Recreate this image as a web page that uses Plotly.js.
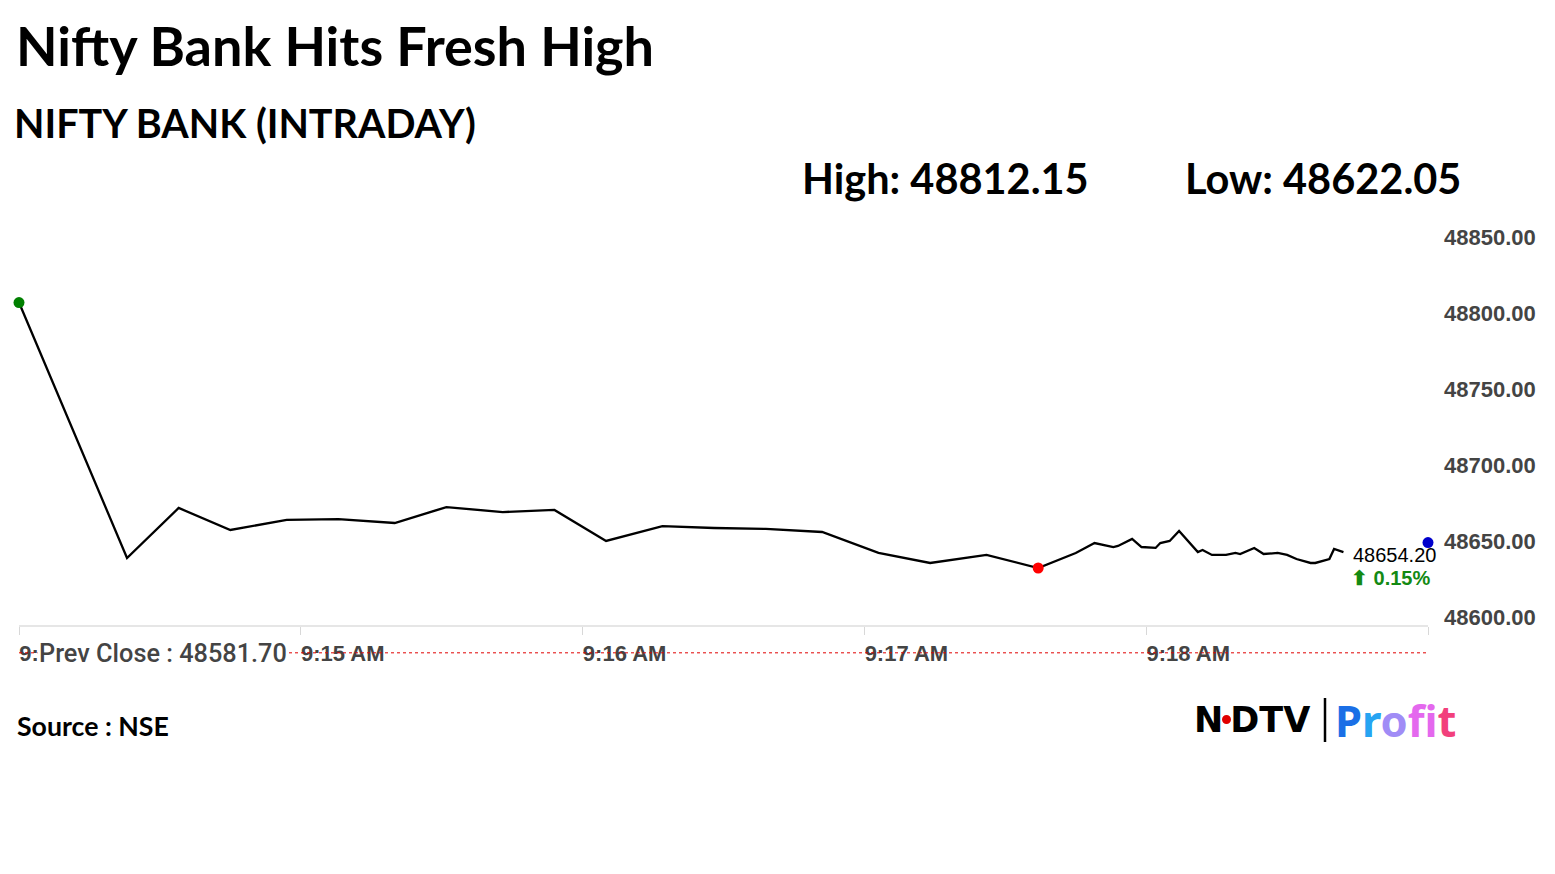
<!DOCTYPE html>
<html><head><meta charset="utf-8">
<script src="https://cdn.plot.ly/plotly-3.0.1.min.js"></script>
<style>html,body{margin:0;padding:0;background:#fff;} #chart{width:1555px;height:874px;}</style>
</head><body><div id="chart"></div>
<script>
// ---- data ----
const sessionDate = "2023-12-04";
const times = ["09:14:00","09:14:23","09:14:34","09:14:45","09:14:57","09:15:08","09:15:20","09:15:31","09:15:43","09:15:54",
  "09:16:05","09:16:17","09:16:28","09:16:39","09:16:51","09:17:03","09:17:14","09:17:26","09:17:37","09:17:45",
  "09:17:49","09:17:53","09:17:54","09:17:57","09:17:59","09:18:02","09:18:03","09:18:05","09:18:07","09:18:11",
  "09:18:12","09:18:14","09:18:17","09:18:19","09:18:20","09:18:23","09:18:25","09:18:28","09:18:30","09:18:32",
  "09:18:35","09:18:36","09:18:39","09:18:40","09:18:42"];
const prices = [48812.15,48644.10,48677.00,48662.50,48669.10,48669.70,48667.10,48677.60,48674.30,48675.70,
  48655.30,48665.10,48663.80,48663.20,48661.20,48647.40,48640.80,48646.10,48637.50,48647.40,
  48653.90,48651.30,48652.00,48656.60,48651.30,48650.70,48653.90,48655.30,48661.80,48648.00,
  48649.30,48646.10,48646.10,48647.40,48646.70,48650.70,48646.70,48647.40,48646.10,48643.40,
  48640.80,48640.80,48643.40,48650.00,48648.00];
const prevClose = 48581.70;
const lastPrice = 48654.20;
const changePct = 0.15;
const dayHigh = 48812.15;
const dayLow = 48622.05;
const xTickTimes = ["09:14:00","09:15:00","09:16:00","09:17:00","09:18:00"];
const xTickLabels = ["9:14 AM","9:15 AM","9:16 AM","9:17 AM","9:18 AM"];
const xEndTime = "09:19:00";
const yTickVals = [48600,48650,48700,48750,48800,48850];
const yTickLabels = yTickVals.map(v => v.toFixed(2));
const titleText = "Nifty Bank Hits Fresh High";
const subtitleText = "NIFTY BANK (INTRADAY)";
const sourceText = "Source : NSE";

// ---- build ----
const ts = t => sessionDate + " " + t;
const xs = times.map(ts);
const endTime = ts(xEndTime);
let iMax = 0, iMin = 0;
prices.forEach((p,i)=>{ if(p>prices[iMax]) iMax=i; if(p<prices[iMin]) iMin=i; });

// layout geometry (pixels)
const W=1555,H=874, L=19, R=127, T=220, B=214;
const PW=W-L-R, PH=H-T-B;
const px = x => (x-L)/PW;
const py = y => (H-B-y)/PH;

const lato = "Lato, 'Noto Sans', sans-serif";
const arial = "'Liberation Sans', Arial, sans-serif";

const traces = [
  {x: xs, y: prices, type:'scatter', mode:'lines', line:{color:'#000', width:2.3}, hoverinfo:'skip', cliponaxis:false},
  {x:[xs[iMax]], y:[prices[iMax]], type:'scatter', mode:'markers', marker:{color:'#008000', size:11}, hoverinfo:'skip', cliponaxis:false},
  {x:[xs[iMin]], y:[prices[iMin]], type:'scatter', mode:'markers', marker:{color:'#ff0000', size:11}, hoverinfo:'skip', cliponaxis:false},
  {x:[endTime], y:[lastPrice], type:'scatter', mode:'markers', marker:{color:'#0000cc', size:11}, hoverinfo:'skip', cliponaxis:false}
];

const ann = (text, x, y, font, extra) => Object.assign({text, xref:'paper', yref:'paper', x:px(x), y:py(y),
  xanchor:'left', yanchor:'middle', showarrow:false, font}, extra||{});

const logoColors = ['#1a6fe6','#26a4f2','#a08cf6','#e468ee','#f04cc8','#f2407c'];
const logoText = "Profit".split("").map((c,i)=>`<span style="color:${logoColors[i]}">${c}</span>`).join("");

const layout = {
  width:W, height:H, margin:{l:L, r:R, t:T, b:B}, showlegend:false,
  paper_bgcolor:'#fff', plot_bgcolor:'#fff',
  xaxis:{type:'date', range:[xs[0], endTime], tickvals: xTickTimes.map(ts), ticktext: xTickLabels,
    anchor:'free', position: py(625), showgrid:false, zeroline:false,
    showline:true, linecolor:'#e6e6e6', linewidth:1.5, ticks:'outside', ticklen:8, tickcolor:'#d8d8d8',
    minor:{ticks:'outside', ticklen:8, tickcolor:'#d8d8d8', dtick:60000, tick0:xs[0], showgrid:false},
    tickfont:{family:arial, size:22, color:'#444', weight:'bold'}, ticklabelshift:42, fixedrange:true},
  yaxis:{range:[48600-(H-B-625)/1.52, 48600+(625-T)/1.52], side:'right', tickvals:yTickVals, ticktext:yTickLabels,
    showgrid:false, zeroline:false, showline:false, ticks:'',
    tickfont:{family:arial, size:22, color:'#444', weight:'bold'}, ticklabelshift:-8, ticklabelstandoff:15, fixedrange:true},
  shapes:[
    {type:'line', xref:'paper', x0:0, x1:1, yref:'y', y0:prevClose, y1:prevClose, line:{color:'#e00000', width:1, dash:'dot'}, layer:'above'},
    {type:'line', xref:'paper', yref:'paper', x0:px(1325), x1:px(1325), y0:py(698), y1:py(742), line:{color:'#000', width:2.5}},
    {type:'circle', xref:'paper', yref:'paper', x0:px(1222), x1:px(1231), y0:py(715), y1:py(724), fillcolor:'#e00000', line:{width:0}, layer:'above'}
  ],
  annotations:[
    ann(titleText, 14, 45, {family:lato, size:54, color:'#000', weight:'bold'}),
    ann(subtitleText, 12, 122, {family:lato, size:39.5, color:'#000', weight:'bold'}),
    ann("High: " + dayHigh.toFixed(2), 800, 178, {family:lato, size:41.5, color:'#000', weight:'bold'}),
    ann("Low: " + dayLow.toFixed(2), 1183, 178, {family:lato, size:41.5, color:'#000', weight:'bold'}),
    ann(sourceText, 15, 726, {family:lato, size:26.7, color:'#000', weight:'bold'}),
    ann("Prev Close : " + prevClose.toFixed(2), 37, 653, {family:"Roboto, 'Liberation Sans', sans-serif", size:25.3, color:'#444', weight:500}, {bgcolor:'#fff'}),
    ann(lastPrice.toFixed(2), 1351, 555, {family:arial, size:20, color:'#000'}),
    ann("<b>\u2B06 " + changePct.toFixed(2) + "%</b>", 1349, 578, {family:arial, size:20, color:'#138a13'}),
    ann("<b>N\u2009DTV</b>", 1192, 720, {family:"'DejaVu Sans', sans-serif", size:35, color:'#000'}),
    ann("<b>" + logoText + "</b>", 1333, 720, {family:"'Noto Sans', sans-serif", size:43.5, color:'#1a6fe6'})
  ]
};
Plotly.newPlot('chart', traces, layout, {staticPlot:true, displayModeBar:false});
</script></body></html>
